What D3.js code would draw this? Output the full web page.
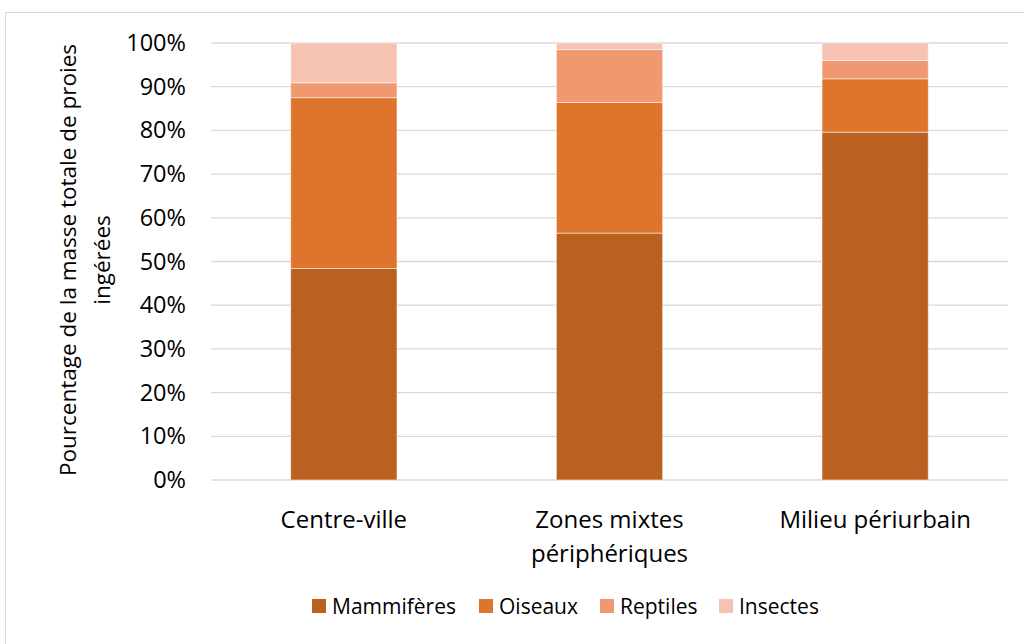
<!DOCTYPE html>
<html>
<head>
<meta charset="utf-8">
<script src="https://cdn.jsdelivr.net/npm/d3@7"></script>
<style>
  body { margin: 0; background: #fff; }
  text { font-family: "Open Sans", sans-serif; fill: #000; }
</style>
</head>
<body>
<svg id="chart" width="1024" height="644"></svg>
<script>
// data
var categories = ["Centre-ville", "Zones mixtes\npériphériques", "Milieu périurbain"];
var seriesNames = ["Mammifères", "Oiseaux", "Reptiles", "Insectes"];
var mammiferes = [48.4, 56.5, 79.6];
var oiseaux = [39.1, 29.9, 12.2];
var reptiles = [3.4, 12.1, 4.2];
var insectes = [9.1, 1.5, 4.0];
var yTicks = [0, 10, 20, 30, 40, 50, 60, 70, 80, 90, 100];
var colors = ["#BA6122", "#DF742C", "#F09870", "#F6C3B2"];

var svg = d3.select("#chart");

// outer chart border
svg.append("rect")
    .attr("x", 5.5).attr("y", 12.5)
    .attr("width", 1030).attr("height", 650)
    .attr("fill", "none")
    .attr("stroke", "#D9D9D9");

var margin = {left: 211, right: 1008, top: 43, bottom: 480};

var x = d3.scaleBand()
    .domain(categories)
    .range([margin.left, margin.right])
    .paddingInner(0.6)
    .paddingOuter(0.3);

var y = d3.scaleLinear()
    .domain([0, 100])
    .range([margin.bottom, margin.top]);

// gridlines
svg.append("g")
    .selectAll("line")
    .data(yTicks)
    .enter().append("line")
    .attr("x1", margin.left)
    .attr("x2", margin.right)
    .attr("y1", function(d) { return y(d); })
    .attr("y2", function(d) { return y(d); })
    .attr("stroke", "#D9D9D9")
    .attr("stroke-width", 1.3);

// y axis labels
var yAxis = svg.append("g")
    .attr("transform", "translate(186,0)")
    .call(d3.axisLeft(y).tickValues(yTicks).tickSize(0).tickPadding(0)
          .tickFormat(function(d) { return d + "%"; }));
yAxis.select(".domain").remove();
yAxis.selectAll("text")
    .style("font-size", "23.5px")
    .style("font-family", "'Open Sans', sans-serif")
    .attr("fill", "#000");

// stacked bars
var table = categories.map(function(c, i) {
  return {cat: c, "Mammifères": mammiferes[i], "Oiseaux": oiseaux[i],
          "Reptiles": reptiles[i], "Insectes": insectes[i]};
});
var stack = d3.stack().keys(seriesNames)(table);

svg.append("g")
    .selectAll("g")
    .data(stack)
    .enter().append("g")
    .attr("fill", function(d, i) { return colors[i]; })
    .selectAll("rect")
    .data(function(d) { return d; })
    .enter().append("rect")
    .attr("x", function(d) { return x(d.data.cat); })
    .attr("width", x.bandwidth())
    .attr("y", function(d) { return y(d[1]); })
    .attr("height", function(d) { return y(d[0]) - y(d[1]); })
    .attr("stroke", "#fff")
    .attr("stroke-opacity", 0.5)
    .attr("stroke-width", 1);

// category labels
var xl = svg.append("g");
categories.forEach(function(c) {
  var lines = c.split("\n");
  var t = xl.append("text")
      .attr("x", x(c) + x.bandwidth() / 2)
      .attr("y", 528)
      .attr("text-anchor", "middle")
      .style("font-size", "24px");
  lines.forEach(function(l, j) {
    t.append("tspan")
        .attr("x", x(c) + x.bandwidth() / 2)
        .attr("dy", j === 0 ? 0 : 34)
        .text(l);
  });
});

// y axis title
var yt = svg.append("text")
    .attr("transform", "translate(76,260) rotate(-90)")
    .attr("text-anchor", "middle")
    .style("font-size", "22.5px");
yt.append("tspan").attr("x", 0).attr("dy", 0).text("Pourcentage de la masse totale de proies");
yt.append("tspan").attr("x", 0).attr("dy", 34).text("ingérées");

// legend
var legendX = [312, 479, 600, 719];
var lg = svg.append("g");
seriesNames.forEach(function(s, i) {
  lg.append("rect")
      .attr("x", legendX[i]).attr("y", 599)
      .attr("width", 14).attr("height", 14)
      .attr("fill", colors[i]);
  lg.append("text")
      .attr("x", legendX[i] + 20)
      .attr("y", 614)
      .style("font-size", "21px")
      .text(s);
});
</script>
</body>
</html>
